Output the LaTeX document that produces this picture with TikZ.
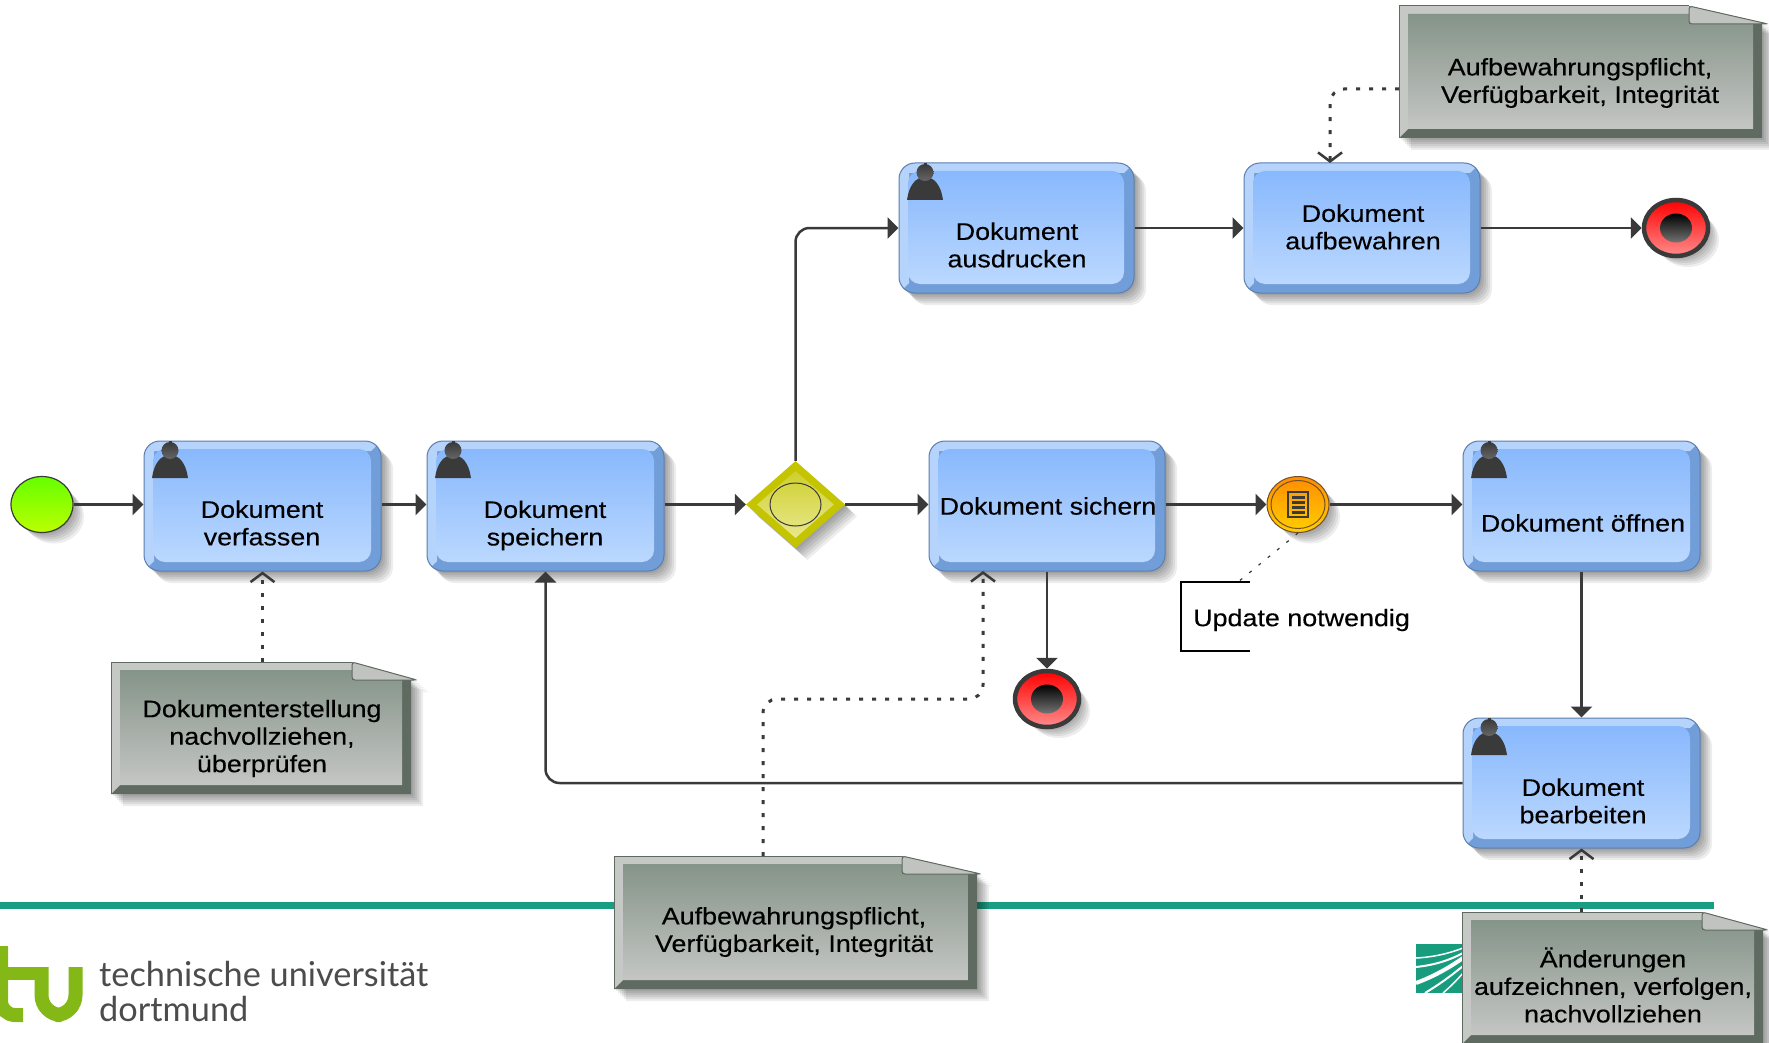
\documentclass[tikz,border=0pt]{standalone}
\usepackage{fontspec}
\usetikzlibrary{arrows.meta,shapes.geometric,calc}
\setmainfont{Liberation Sans}
\newfontfamily\dgm[FakeStretch=1.12,FakeBold=0.25]{Liberation Sans}
\newfontfamily\tufont{Lato}
\definecolor{lineDark}{HTML}{3A3A3A}
\definecolor{bevLight}{HTML}{B5D3FB}
\definecolor{bevDark}{HTML}{719DD8}
\definecolor{taskTop}{HTML}{88B8FD}
\definecolor{taskBot}{HTML}{BBD8FE}
\definecolor{noteLight}{HTML}{C6C8C6}
\definecolor{noteDark}{HTML}{5F6A60}
\definecolor{noteTop}{HTML}{859488}
\definecolor{noteBot}{HTML}{C4C6C4}
\definecolor{band}{HTML}{1A9E82}
\definecolor{fhg}{HTML}{179C7D}
\definecolor{tugreen}{HTML}{84B817}
\definecolor{startTop}{HTML}{66FF00}
\definecolor{startBot}{HTML}{BBFF00}
\definecolor{gwOut}{HTML}{C4C400}
\definecolor{gwTop}{HTML}{CFCF2E}
\definecolor{gwBot}{HTML}{E8E88E}
\definecolor{evTop}{HTML}{FF8C00}
\definecolor{evBot}{HTML}{FFD000}
\tikzset{
  flow/.style={draw=lineDark,line width=2.5pt,-{Triangle[width=21pt,length=11pt]},rounded corners=14},
  assoc/.style={draw=lineDark,line width=3pt,dash pattern=on 4pt off 9pt,-{Straight Barb[width=24pt,length=9pt,line width=2.5pt]},rounded corners=14},
  dgmtext/.style={font=\dgm\fontsize{24}{27.5}\selectfont,align=center,inner sep=0pt,text=black},
  taskframe/.style={inner sep=0pt,draw=bevDark!80!black,line width=1pt,rounded corners=16},
  noteanchor/.style={inner sep=0pt,draw=none},
  evshape/.style={ellipse,inner sep=0pt},
}
% soft shadow: #1 = a path
\newcommand{\softshadow}[1]{\foreach \o in {2,4,...,12}{\fill[black,opacity=.07,shift={(\o,\o)}] #1;}}
% name, x1,y1,x2,y2
\newcommand{\mytask}[5]{%
  \softshadow{[rounded corners=16] (#2,#3) rectangle (#4,#5)}
  \begin{scope}
    \clip[rounded corners=16] (#2,#3) rectangle (#4,#5);
    \fill[bevDark] (#2,#3) rectangle (#4,#5);
    \fill[bevLight] (#2,#5) -- (#2,#3) -- (#4,#3) -- ({#4-10},{#3+10}) -- ({#2+10},{#3+10}) -- ({#2+10},{#5-10}) -- cycle;
  \end{scope}
  \shade[top color=taskTop,bottom color=taskBot,rounded corners=12] ({#2+9},{#3+8}) rectangle ({#4-10},{#5-9});
  \node[taskframe,minimum width={(#4-#2)*1pt},minimum height={(#5-#3)*1pt}] (#1) at ({(#2+#4)/2},{(#3+#5)/2}) {};
}
\newcommand{\person}[2]{%
  \begin{scope}[shift={(#1,#2)}]
    \fill[lineDark] (8,37) .. controls (10,22) and (17,14) .. (26,14) .. controls (35,14) and (42,22) .. (44,37) -- cycle;
    \shade[top color=lineDark,bottom color=black!60] (26,9.5) circle (8.5);
    \fill[lineDark] (24.5,0) rectangle (27.5,3);
  \end{scope}
}
% name,x1,y1,x2,y2,foldx,cornerx,cornery
\newcommand{\mynote}[8]{%
  \softshadow{(#2,#3) -- (#6,#3) -- (#7,#8) -- (#4,#8) -- (#4,#5) -- (#2,#5) -- cycle}
  \fill[noteDark] (#2,#3) -- (#6,#3) -- (#7,#8) -- (#4,#8) -- (#4,#5) -- (#2,#5) -- cycle;
  \fill[noteLight] (#2,#5) -- (#2,#3) -- (#6,#3) -- (#6,{#3+8}) -- ({#2+9},{#3+8}) -- ({#2+9},{#5-9}) -- cycle;
  \shade[top color=noteTop,bottom color=noteBot] ({#2+9},{#3+8}) -- (#6,{#3+8}) -- (#6,#8) -- ({#4-9},#8) -- ({#4-9},{#5-9}) -- ({#2+9},{#5-9}) -- cycle;
  \filldraw[fill=noteLight!110!white,draw=noteDark,line width=1pt,rounded corners=3] (#6,#3) -- (#6,#8) -- (#7,#8) -- cycle;
  \draw[noteDark,line width=1pt] (#2,#5) -- (#2,#3) -- (#6,#3);
  \node[noteanchor,minimum width={(#4-#2)*1pt},minimum height={(#5-#3)*1pt}] (#1) at ({(#2+#4)/2},{(#3+#5)/2}) {};
}
% end event: name, cx, cy
\newcommand{\myend}[3]{%
  \softshadow{(#2,#3) ellipse [x radius=31,y radius=27]}
  \node[evshape,minimum width=64pt,minimum height=56pt,draw=lineDark,line width=4.5pt,top color=red,bottom color=red!45!white] (#1) at (#2,#3) {};
  \node[evshape,minimum width=32pt,minimum height=29pt,top color=black,bottom color=black!55!white] (#1in) at (#2,#3) {};
}
\begin{document}
\begin{tikzpicture}[x=1pt,y=-1pt]
\path[use as bounding box,clip] (0,0) rectangle (1769,1043);
\fill[white] (0,0) rectangle (1769,1043);

% footer band and logos
\fill[band] (0,902) rectangle (1714,909);
\draw[tugreen,line width=14pt,rounded corners=14,line cap=butt] (1,946) -- (1,1015) -- (23,1015);
\fill[tugreen] (0,967) rectangle (48,980);
\draw[tugreen,line width=14pt,rounded corners=20] (41.5,967) -- (41.5,1015) -- (75.5,1015) -- (75.5,967);
\node[anchor=base west,inner sep=0pt,text=black!70,font=\tufont\fontsize{34.3}{36}\selectfont] (tuA) at (99,986) {technische universität};
\node[anchor=base west,inner sep=0pt,text=black!70,font=\tufont\fontsize{34.3}{36}\selectfont] (tuB) at (99,1021) {dortmund};
\fill[fhg] (1416,944) rectangle (1463,993);
\begin{scope}
  \clip (1416,944) rectangle (1463,993);
  \draw[white,line width=1.5pt] (1416,958) .. controls (1435,957) and (1450,953) .. (1463,948);
  \draw[white,line width=2pt] (1416,967) .. controls (1435,965) and (1450,960) .. (1463,953);
  \draw[white,line width=4pt] (1416,983) .. controls (1435,976) and (1450,967) .. (1463,958);
  \draw[white,line width=2pt] (1425,993) .. controls (1440,984) and (1452,975) .. (1463,966);
  \draw[white,line width=1.5pt] (1443,993) .. controls (1450,987) and (1457,980) .. (1463,973);
\end{scope}

% tasks
\mytask{verf}{144}{441}{381}{571}
\mytask{speich}{427}{441}{664}{571}
\mytask{sich}{929}{441}{1165}{571}
\mytask{oeff}{1463}{441}{1700}{571}
\mytask{bearb}{1463}{718}{1700}{848}
\mytask{ausd}{899}{163}{1134}{293}
\mytask{aufb}{1244}{163}{1480}{293}
\person{144}{441}
\person{427}{441}
\person{1463}{441}
\person{1463}{718}
\person{899}{163}

\node[dgmtext] (verfT) at (262,523) {Dokument\\verfassen};
\node[dgmtext] (speichT) at (545,525.5) {Dokument\\speichern};
\node[dgmtext] (sichT) at (1048,506) {Dokument sichern};
\node[dgmtext] (oeffT) at (1583,523) {Dokument öffnen};
\node[dgmtext] (bearbT) at (1583,801) {Dokument\\bearbeiten};
\node[dgmtext] (ausdT) at (1017,245) {Dokument\\ausdrucken};
\node[dgmtext] (aufbT) at (1363,227) {Dokument\\aufbewahren};

% start event
\softshadow{(42,504.5) ellipse [x radius=30,y radius=27]}
\node[evshape,minimum width=62pt,minimum height=56pt,draw=lineDark,line width=1.2pt,top color=startTop,bottom color=startBot] (start) at (42,504.5) {};

% gateway
\softshadow{(746,504.5) -- (795.5,461) -- (845,504.5) -- (795.5,548) -- cycle}
\node[diamond,aspect=1.14,inner sep=0pt,minimum width=99pt,minimum height=87pt,fill=gwOut] (gw) at (795.5,504.5) {};
\node[diamond,aspect=1.14,inner sep=0pt,minimum width=77pt,minimum height=67pt,top color=gwTop,bottom color=gwBot] (gwIn) at (795.5,504.5) {};
\node[evshape,minimum width=51pt,minimum height=43pt,draw=lineDark,line width=1pt] (gwC) at (795.5,504.5) {};

% intermediate event
\softshadow{(1298,504.5) ellipse [x radius=30,y radius=27]}
\node[evshape,minimum width=62pt,minimum height=56pt,draw=lineDark!70!orange,line width=1pt,top color=evTop,bottom color=evBot] (ev) at (1298,504.5) {};
\node[evshape,minimum width=54pt,minimum height=48pt,draw=lineDark!70!orange,line width=1pt] (evIn) at (1298,504.5) {};
\node[draw=lineDark,line width=1.5pt,inner sep=0pt,minimum width=20pt,minimum height=25pt] (evDoc) at (1298,504.5) {};
\foreach \yy in {496,501,506,511}{\fill[lineDark] (1291.5,\yy) rectangle (1304.5,{\yy+2.5});}

% end events
\myend{endA}{1676}{228}
\myend{endB}{1047}{699}

% annotation
\node[inner sep=0pt,minimum width=69pt,minimum height=69pt] (ann) at (1215.5,616.5) {};
\draw[black,line width=2pt] (ann.north east) -- (ann.north west) -- (ann.south west) -- (ann.south east);
\node[dgmtext,anchor=west] (annT) at (1193,620) {Update notwendig};
\coordinate (annTop) at (1238,582);
\draw[lineDark,line width=1.2pt,dash pattern=on 3pt off 9pt] (ev.south) -- (annTop);

% notes
\mynote{nA}{111}{662}{411}{794}{352}{417}{680}
\node[dgmtext] (nAT) at (262,738.5) {Dokumenterstellung\\nachvollziehen,\\überprüfen};
\mynote{nB}{614}{856}{977}{989}{902}{981}{874}
\node[dgmtext] (nBT) at (794,932) {Aufbewahrungspflicht,\\Verfügbarkeit, Integrität};
\mynote{nC}{1462}{912}{1763}{1044}{1702}{1768}{930}
\node[dgmtext] (nCT) at (1613,985) {Änderungen\\aufzeichnen, verfolgen,\\nachvollziehen};
\mynote{nD}{1399}{6}{1762}{138}{1689}{1768}{24}
\node[dgmtext] (nDT) at (1580,83) {Aufbewahrungspflicht,\\Verfügbarkeit, Integrität};

% sequence flows
\draw[flow] (start.east) -- (start -| verf.west);
\draw[flow] (start -| verf.east) -- (start -| speich.west);
\draw[flow] (start -| speich.east) -- (gw.west);
\draw[flow] (gw.east) -- (gw -| sich.west);
\draw[flow] (gw -| sich.east) -- (ev.west);
\draw[flow] (ev.east) -- (ev -| oeff.west);
\draw[flow] (oeff.south) -- (bearb.north);
\draw[flow] (sich.south) -- (endB.north);
\draw[flow] (bearb.west) -| (speich.south);
\draw[flow] (gw.north) |- (ausd.west);
\draw[flow] (ausd.east) -- (aufb.west);
\draw[flow] (aufb.east) -- (endA.west);

% associations
\draw[assoc] (verf.south |- nA.north) -- (verf.south);
\coordinate (nBout) at (763,856);
\coordinate (sichIn) at (983,571);
\coordinate (nBbend) at (763,699);
\draw[assoc] (nBout) -- (nBbend) -- (nBbend -| sichIn) -- (sichIn);
\draw[assoc] (bearb.south |- nC.north) -- (bearb.south);
\coordinate (nDout) at (1399,89);
\coordinate (aufbIn) at (1330,163);
\draw[assoc] (nDout) -| (aufbIn);
\end{tikzpicture}
\end{document}
